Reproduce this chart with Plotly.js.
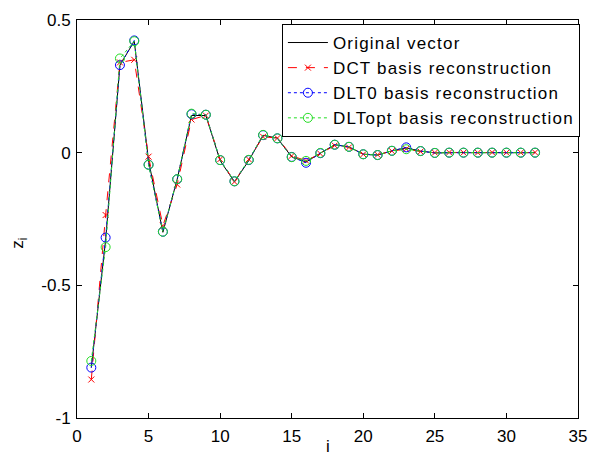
<!DOCTYPE html>
<html>
<head>
<meta charset="utf-8">
<script src="https://cdn.plot.ly/plotly-3.0.1.min.js"></script>
<style>
html,body{margin:0;padding:0;background:#fff;}
#chart{width:593px;height:457px;}
.legendtext{letter-spacing:1.2px;}
</style>
</head>
<body>
<div id="chart"></div>
<script>
const idx = [1,2,3,4,5,6,7,8,9,10,11,12,13,14,15,16,17,18,19,20,21,22,23,24,25,26,27,28,29,30,31,32];
const original = [-0.81,-0.33,0.33,0.42,-0.03,-0.30,-0.10,0.14,0.14,-0.03,-0.11,-0.03,0.065,0.055,-0.016,-0.035,-0.002,0.03,0.022,-0.006,-0.009,0.007,0.018,0.006,-0.001,0.001,0.001,0.0,0.0,0.001,0.0,0.0];
const dct = [-0.855,-0.235,0.34,0.35,-0.015,-0.275,-0.12,0.125,0.14,-0.025,-0.11,-0.025,0.06,0.055,-0.012,-0.03,-0.004,0.027,0.02,-0.006,-0.008,0.006,0.014,0.004,0.0,0.001,0.0,0.0,0.001,0.0,0.0,0.001];
const dlt0 = [-0.81,-0.32,0.33,0.423,-0.045,-0.298,-0.10,0.145,0.143,-0.028,-0.108,-0.028,0.066,0.054,-0.016,-0.038,-0.002,0.03,0.022,-0.006,-0.009,0.007,0.02,0.006,-0.001,0.0,0.0,0.0,0.0,0.0,0.0,0.0];
const dltopt = [-0.785,-0.356,0.355,0.42,-0.046,-0.298,-0.10,0.147,0.143,-0.028,-0.108,-0.027,0.067,0.054,-0.017,-0.031,-0.001,0.03,0.022,-0.006,-0.009,0.007,0.013,0.006,-0.001,0.0,0.0,0.0,0.0,0.0,0.0,0.0];
const names = ['Original vector','DCT basis reconstruction','DLT0 basis reconstruction','DLTopt basis reconstruction'];
const xTicks = [0,5,10,15,20,25,30,35];
const yTicks = [-1,-0.5,0,0.5];
const yTickText = ['-1','-0.5','0','0.5'];
const xLabel = 'i';
const yLabel = 'z<sub>i</sub>';

const traces = [
  {x: idx, y: original, name: names[0], mode: 'lines', line: {color: '#000000', width: 1}},
  {x: idx, y: dct, name: names[1], mode: 'lines+markers', line: {color: '#ff0000', width: 1, dash: 'dash'},
   marker: {symbol: 'x-thin-open', size: 6, color: '#ff0000', line: {color: '#ff0000', width: 1}}},
  {x: idx, y: dlt0, name: names[2], mode: 'lines+markers', line: {color: '#0000ff', width: 1, dash: 'dot'},
   marker: {symbol: 'circle-open', size: 9, color: '#0000ff', line: {color: '#0000ff', width: 1}}},
  {x: idx, y: dltopt, name: names[3], mode: 'lines+markers', line: {color: '#22dd22', width: 1, dash: 'dot'},
   marker: {symbol: 'circle-open', size: 9, color: '#22dd22', line: {color: '#22dd22', width: 1}}}
];

const fontFam = 'Liberation Sans, Arial, sans-serif';
const axisCommon = {
  showline: true, linecolor: '#000', linewidth: 1, mirror: 'ticks',
  ticks: 'inside', ticklen: 5, tickcolor: '#000', tickwidth: 1,
  showgrid: false, zeroline: false,
  tickfont: {family: fontFam, size: 17, color: '#000'}
};

const layout = {
  width: 593, height: 457,
  margin: {l: 77, r: 15, t: 20, b: 39},
  paper_bgcolor: '#ffffff', plot_bgcolor: '#ffffff',
  font: {family: fontFam, size: 17, color: '#000'},
  xaxis: Object.assign({}, axisCommon, {range: [0, 35], tickvals: xTicks, ticktext: xTicks.map(String),
    ticklabelstandoff: 3}),
  yaxis: Object.assign({}, axisCommon, {range: [-1, 0.5], tickvals: yTicks, ticktext: yTickText,
    ticklabelstandoff: 2}),
  annotations: [
    {text: yLabel, xref: 'paper', yref: 'paper', x: -0.116, y: 0.44, xanchor: 'center', yanchor: 'middle',
     textangle: -90, showarrow: false, font: {family: fontFam, size: 17, color: '#000'}},
    {text: xLabel, xref: 'paper', yref: 'paper', x: 0.5, y: -0.072, xanchor: 'center', yanchor: 'middle',
     showarrow: false, font: {family: fontFam, size: 17, color: '#000'}}
  ],
  showlegend: true,
  legend: {x: 0.409, y: 0.99, xanchor: 'left', yanchor: 'top', bgcolor: '#ffffff',
    bordercolor: '#000', borderwidth: 1, font: {family: fontFam, size: 17, color: '#000'},
    tracegroupgap: 0, itemwidth: 40}
};

Plotly.newPlot('chart', traces, layout, {displayModeBar: false, staticPlot: true});
</script>
</body>
</html>
